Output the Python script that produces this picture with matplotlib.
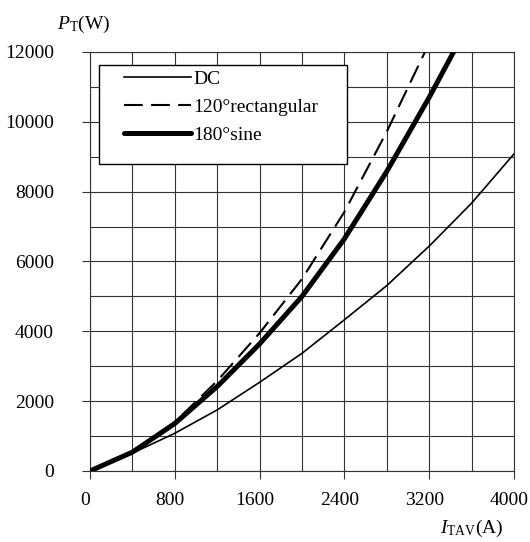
import matplotlib
matplotlib.use('Agg')
import matplotlib.pyplot as plt
import matplotlib.transforms as mtransforms
from matplotlib.patches import Rectangle

plt.rcParams['font.family'] = 'Liberation Serif'
plt.rcParams['mathtext.fontset'] = 'custom'
plt.rcParams['mathtext.rm'] = 'Liberation Serif'
plt.rcParams['mathtext.it'] = 'Liberation Serif:italic'

# values (I_TAV in A, P_T in W)
current = [0, 400, 800, 1200, 1600, 2000, 2400, 2800, 3200, 3600, 4000]
dc_loss = [0, 510, 1080, 1750, 2540, 3370, 4330, 5310, 6440, 7670, 9080]

rect_current = [0, 400, 800, 1200, 1600, 2000, 2400, 2800, 3160]
rect_loss = [0, 550, 1400, 2580, 3950, 5500, 7420, 9720, 12000]

sine_current = [0, 400, 800, 1200, 1600, 2000, 2400, 2800, 3200, 3430]
sine_loss = [0, 540, 1360, 2420, 3640, 5000, 6650, 8580, 10700, 12000]

fig = plt.figure(figsize=(5.3, 5.42), dpi=100)
ax = fig.add_axes([0.1698, 0.131, 0.800, 0.7731])

ax.plot(current, dc_loss, color='black', lw=1.2, label='DC', zorder=3)
ax.plot(rect_current, rect_loss, color='black', lw=1.5, ls=(0, (9, 4)),
        label='120°rectangular', zorder=3)
ax.plot(sine_current, sine_loss, color='black', lw=3.6, solid_capstyle='round',
        label='180°sine', zorder=3)

ax.set_xlim(0, 4000)
ax.set_ylim(0, 12000)
ax.set_xticks(range(0, 4001, 800))
ax.set_xticks(range(0, 4001, 400), minor=True)
ax.set_yticks(range(0, 12001, 2000))
ax.set_yticks(range(0, 12001, 1000), minor=True)
ax.grid(which='both', color='#333333', lw=0.8)
ax.set_axisbelow(True)
ax.tick_params(which='major', direction='out', length=6, width=0.8,
               color='#333333', labelsize=14)
ax.tick_params(axis='y', pad=20)
ax.tick_params(axis='x', pad=9)
ax.tick_params(which='minor', length=0)
for s in ax.spines.values():
    s.set_color('#333333')
    s.set_linewidth(0.8)

offset = mtransforms.ScaledTranslation(-5 / 100, 0, fig.dpi_scale_trans)
for lbl in ax.xaxis.get_majorticklabels():
    lbl.set_transform(lbl.get_transform() + offset)

# legend box drawn by hand, legend itself without frame
box = Rectangle((0.0212, 0.733), 0.585, 0.236, transform=ax.transAxes,
                facecolor='white', edgecolor='black', lw=1, zorder=4)
ax.add_patch(box)
leg = ax.legend(loc='upper left', bbox_to_anchor=(0.080, 0.957), frameon=False,
                borderpad=0, borderaxespad=0, handlelength=3.45,
                handletextpad=0.1, labelspacing=0.55, fontsize=14)
leg.set_zorder(5)

fig.text(57 / 530, 1 - 24 / 542, r'$P_{\mathrm{T}}$(W)', ha='left', va='center',
         fontsize=14)
fig.text(440 / 530, 1 - 528 / 542, r'$I_{\mathrm{TAV}}$(A)', ha='left',
         va='center', fontsize=14)

fig.savefig('out.png', dpi=100)
